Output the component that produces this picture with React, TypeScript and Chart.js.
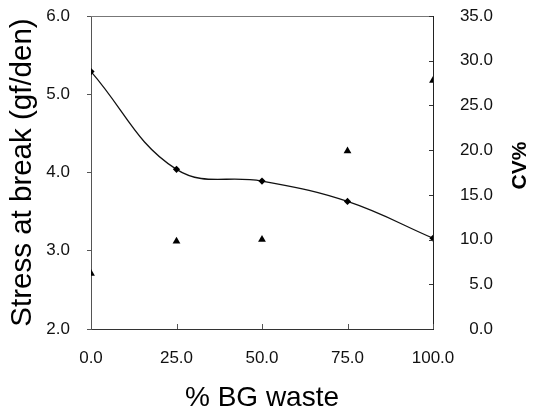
import React, { useEffect, useRef } from "react";
import { Chart, registerables } from "chart.js";

Chart.register(...registerables);

const wastePct = [0, 25, 50, 75, 100];
const stressAtBreak = [5.29, 4.04, 3.89, 3.63, 3.16];
const cvPercent = [6.2, 9.8, 10.0, 19.9, 27.8];

const xTicks = [0, 25, 50, 75, 100];
const leftTicks = [2, 3, 4, 5, 6];
const rightTicks = [0, 5, 10, 15, 20, 25, 30, 35];

const FONT = "'Liberation Sans', Arial, Helvetica, sans-serif";
const TICK_SIZE = 17;

const framePlugin = {
  id: "frame",
  afterDraw(chart: any) {
    const { ctx, chartArea, scales } = chart;
    ctx.save();
    // top frame line
    ctx.strokeStyle = "#777";
    ctx.lineWidth = 1;
    ctx.beginPath();
    ctx.moveTo(chartArea.left, Math.round(chartArea.top) + 0.5);
    ctx.lineTo(chartArea.right, Math.round(chartArea.top) + 0.5);
    ctx.stroke();
    // inward ticks on x axis
    ctx.strokeStyle = "#555";
    const xs = scales.x;
    xs.ticks.forEach((t: any) => {
      const px = Math.round(xs.getPixelForValue(t.value)) + 0.5;
      ctx.beginPath();
      ctx.moveTo(px, chartArea.bottom);
      ctx.lineTo(px, chartArea.bottom - 5);
      ctx.stroke();
    });
    // inward ticks on right axis
    const ys = scales.y1;
    ctx.strokeStyle = "#333";
    ys.ticks.forEach((t: any) => {
      const py = Math.round(ys.getPixelForValue(t.value)) + 0.5;
      ctx.beginPath();
      ctx.moveTo(chartArea.right, py);
      ctx.lineTo(chartArea.right - 4, py);
      ctx.stroke();
    });
    // right axis title (reads bottom-to-top)
    ctx.fillStyle = "#000";
    ctx.font = `bold 21px ${FONT}`;
    ctx.textAlign = "center";
    ctx.textBaseline = "middle";
    ctx.translate(520, (chartArea.top + chartArea.bottom) / 2 - 7);
    ctx.rotate(-Math.PI / 2);
    ctx.fillText("CV%", 0, 0);
    ctx.restore();
  },
};

export default function App() {
  const ref = useRef<HTMLCanvasElement | null>(null);

  useEffect(() => {
    if (!ref.current) return;
    const chart = new Chart(ref.current, {
      type: "line",
      data: {
        datasets: [
          {
            label: "Stress at break",
            data: wastePct.map((x, i) => ({ x, y: stressAtBreak[i] })),
            yAxisID: "y",
            borderColor: "#111",
            borderWidth: 1.3,
            tension: 0.4,
            pointStyle: "rectRot",
            pointRadius: 3.6,
            pointBackgroundColor: "#000",
            pointBorderColor: "#000",
            pointBorderWidth: 0,
          },
          {
            label: "CV%",
            data: wastePct.map((x, i) => ({ x, y: cvPercent[i] })),
            yAxisID: "y1",
            showLine: false,
            pointStyle: "triangle",
            pointRadius: 4.5,
            pointBackgroundColor: "#000",
            pointBorderColor: "#000",
            pointBorderWidth: 0,
          },
        ],
      },
      options: {
        responsive: false,
        animation: false,
        events: [],
        layout: { padding: { top: 16, right: 40, bottom: 0, left: 0 } },
        plugins: {
          legend: { display: false },
          tooltip: { enabled: false },
        },
        scales: {
          x: {
            type: "linear",
            position: "bottom",
            min: 0,
            max: 100,
            afterBuildTicks: (s: any) => {
              s.ticks = xTicks.map((v) => ({ value: v }));
            },
            afterFit: (s: any) => {
              s.height = 87;
              s.paddingLeft = 0;
              s.paddingRight = 0;
            },
            grid: { display: true, drawOnChartArea: false, drawTicks: false },
            border: { display: true, color: "#333", width: 1 },
            ticks: {
              padding: 19,
              color: "#111",
              font: { family: FONT, size: TICK_SIZE },
              callback: (v: any) => Number(v).toFixed(1),
            },
            title: {
              display: true,
              text: "% BG waste",
              color: "#000",
              font: { family: FONT, size: 28 },
              padding: { top: 0, bottom: 1 },
            },
          },
          y: {
            type: "linear",
            position: "left",
            min: 2,
            max: 6,
            afterBuildTicks: (s: any) => {
              s.ticks = leftTicks.map((v) => ({ value: v }));
            },
            afterFit: (s: any) => {
              s.width = 91;
              s.paddingTop = 0;
              s.paddingBottom = 0;
            },
            grid: { display: true, drawOnChartArea: false, drawTicks: true, tickLength: 4, color: "#555" },
            border: { display: true, color: "#555", width: 1 },
            ticks: {
              padding: 17,
              color: "#111",
              font: { family: FONT, size: TICK_SIZE },
              callback: (v: any) => Number(v).toFixed(1),
            },
            title: {
              display: true,
              text: "Stress at break (gf/den)",
              color: "#000",
              font: { family: FONT, size: 29.5 },
              padding: { top: 5, bottom: 0 },
            },
          },
          y1: {
            type: "linear",
            position: "right",
            min: 0,
            max: 35,
            afterBuildTicks: (s: any) => {
              s.ticks = rightTicks.map((v) => ({ value: v }));
            },
            afterFit: (s: any) => {
              s.width = 60;
              s.paddingTop = 0;
              s.paddingBottom = 0;
            },
            grid: { display: true, drawOnChartArea: false, drawTicks: false },
            border: { display: true, color: "#222", width: 1 },
            ticks: {
              crossAlign: "far",
              padding: 0,
              color: "#111",
              font: { family: FONT, size: TICK_SIZE },
              callback: (v: any) => Number(v).toFixed(1),
            },
          },
        },
      },
      plugins: [framePlugin],
    } as any);
    return () => chart.destroy();
  }, []);

  return (
    <div style={{ position: "absolute", left: 0, top: 0, width: 533, height: 416, background: "#fff" }}>
      <canvas ref={ref} width={533} height={416} />
    </div>
  );
}
